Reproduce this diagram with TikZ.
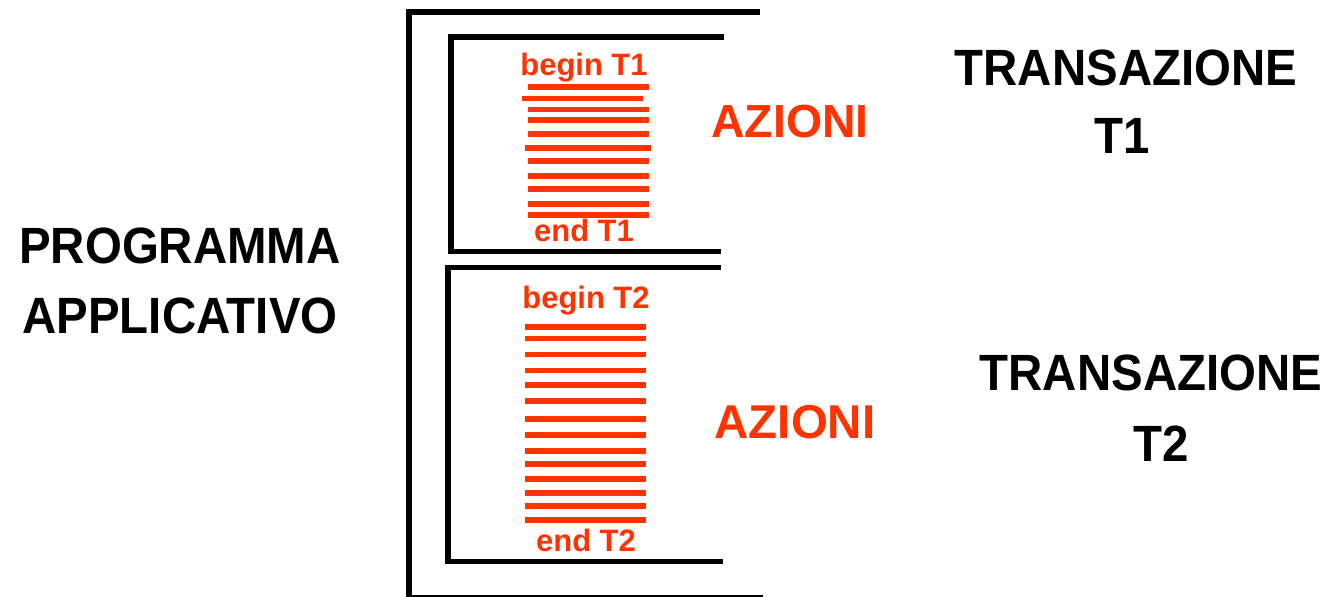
\documentclass[tikz,border=0pt]{standalone}
\usepackage{fontspec}
\setmainfont{Liberation Sans}
\newfontfamily\narrowsans[FakeStretch=0.93]{Liberation Sans}
\usepackage{xcolor}
\usepackage{tikz}
\usetikzlibrary{positioning}
\definecolor{txred}{HTML}{FF3300}

\begin{document}
\begin{tikzpicture}[
    x=0.01cm, y=-0.01cm,
    bigtext/.style={anchor=base, inner sep=0pt, font=\narrowsans\fontsize{14.5}{17}\selectfont\bfseries},
    redtext/.style={anchor=base, inner sep=0pt, color=txred, font=\fontsize{13.2}{16}\selectfont\bfseries},
    smalltext/.style={anchor=base, inner sep=0pt, color=txred, font=\fontsize{8.8}{10}\selectfont\bfseries},
    bracket/.style={line width=1.45pt, color=black},
    action/.style={line width=1.7pt, color=txred}
]
\useasboundingbox (0,0) rectangle (1330,597);

% Program bracket
\draw[bracket] (760,12) -- (409,12) -- (409,598) -- (763,598);

% Transaction brackets
\draw[bracket] (724,37) -- (451,37) -- (451,251.5) -- (721,251.5);
\draw[bracket] (721,267.5) -- (448,267.5) -- (448,561.5) -- (723,561.5);

% Actions of T1
\foreach \ya/\xa/\xb in {86.7/528/649, 98.5/522/643, 109.5/528/649, 120/528/649,
    134.3/528/649, 147.8/525/651, 161.3/528/649, 175.8/528/649, 189.3/528/649,
    203.7/528/649, 215/528/649}
  \draw[action] (\xa,\ya) -- (\xb,\ya);

% Actions of T2
\foreach \ya in {326.8, 338.5, 354.5, 370.5, 384.8, 401, 418.8, 434.8, 451,
    464.3, 478.8, 492.8, 506.3, 520}
  \draw[action] (525,\ya) -- (646,\ya);

% Labels inside the brackets
\node[smalltext] (begin1) at (584,75) {begin T1};
\node[smalltext] (end1) at (584,241.7) {end T1};
\node[smalltext] (begin2) at (586,308) {begin T2};
\node[smalltext] (end2) at (586,551) {end T2};

\node[redtext] (azioni1) at (790,137) {AZIONI};
\node[redtext, font=\fontsize{13.5}{16}\selectfont\bfseries] (azioni2) at (795,438) {AZIONI};

% Black labels
\node[bigtext] (prog) at (180,263) {PROGRAMMA};
\node[bigtext] (appl) at (180,333) {APPLICATIVO};
\node[bigtext] (trans1) at (1126,85) {TRANSAZIONE};
\node[bigtext] (tname1) at (1122,153) {T1};
\node[bigtext] (trans2) at (1151,390) {TRANSAZIONE};
\node[bigtext] (tname2) at (1161,461.7) {T2};

\end{tikzpicture}
\end{document}
